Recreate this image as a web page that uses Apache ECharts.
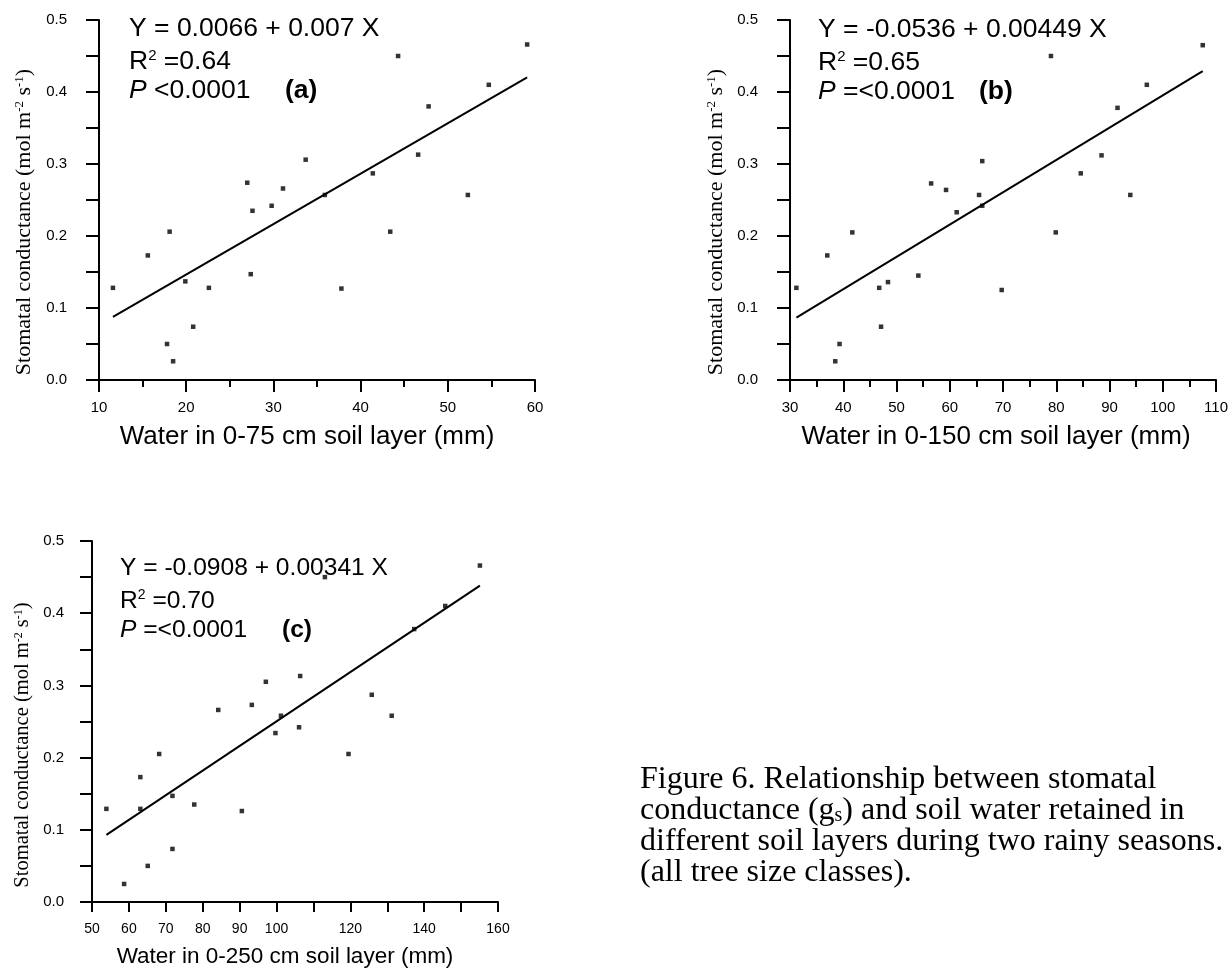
<!DOCTYPE html>
<html><head><meta charset="utf-8">
<script src="https://cdn.jsdelivr.net/npm/echarts@6/dist/echarts.min.js"></script>
<style>html,body{margin:0;padding:0;background:#fff}#c{width:1231px;height:971px}</style>
</head><body><div id="c"></div>
<script>
// ---- data ----
const xA = [11.6,15.6,17.8,18.1,18.5,19.9,20.8,22.6,27.0,27.4,27.6,29.8,31.1,33.7,35.9,37.8,41.4,43.4,44.3,46.6,47.8,52.3,54.7,59.1];
const yA = [0.128,0.173,0.050,0.206,0.026,0.137,0.074,0.128,0.274,0.147,0.235,0.242,0.266,0.306,0.257,0.127,0.287,0.206,0.450,0.313,0.380,0.257,0.410,0.466];
const xB = [31.2,37.0,38.5,39.3,41.7,46.75,47.1,48.4,54.1,56.5,59.3,61.3,65.5,66.1,66.1,69.75,79.0,79.9,84.6,88.5,91.5,93.9,97.0,107.5];
const yB = [0.128,0.173,0.026,0.050,0.205,0.128,0.074,0.136,0.145,0.273,0.264,0.233,0.257,0.304,0.242,0.125,0.450,0.205,0.287,0.312,0.378,0.257,0.410,0.465];
const xC = [53.9,58.7,63.1,63.1,65.1,68.2,71.8,71.8,77.7,84.2,90.6,93.3,97.1,99.7,101.2,106.1,106.4,113.1,119.5,125.8,131.2,137.3,145.7,155.1];
const yC = [0.129,0.025,0.173,0.129,0.050,0.205,0.147,0.0735,0.135,0.266,0.126,0.273,0.305,0.234,0.258,0.242,0.313,0.450,0.205,0.287,0.258,0.378,0.410,0.466];
// regression [intercept, slope]
const fitA = [0.0066, 0.007];
const fitB = [-0.0536, 0.00449];
const fitC = [-0.0908, 0.00341];
const xRangeA = [10, 60], xRangeB = [30, 110], xRangeC = [50, 160];
const yRange = [0, 0.5];
const hiddenXLabelsC = [110, 130, 150];
const xTitles = ['Water in 0-75 cm soil layer (mm)', 'Water in 0-150 cm soil layer (mm)', 'Water in 0-250 cm soil layer (mm)'];
const eqText = ['Y = 0.0066 + 0.007 X', 'Y = -0.0536 + 0.00449 X', 'Y = -0.0908 + 0.00341 X'];
const r2Text = ['0.64', '0.65', '0.70'];
const pText = [' <0.0001', ' =<0.0001', ' =<0.0001'];
const panelTags = ['(a)', '(b)', '(c)'];

// ---- build ----
const SANS = 'Liberation Sans, Arial, sans-serif';
const SERIF = 'Liberation Serif, Times New Roman, serif';
const grids = [
  {left: 99, top: 20, width: 436, height: 360},
  {left: 790, top: 20, width: 435, height: 360},
  {left: 92, top: 541, width: 406, height: 361}
];
function pts(xs, ys){ return xs.map((x,i)=>[x, ys[i]]); }
function fitLine(xs, f){ const lo=Math.min(...xs), hi=Math.max(...xs); return [[lo, f[0]+f[1]*lo],[hi, f[0]+f[1]*hi]]; }
const axisLine = {lineStyle:{color:'#000', width:2}};
function xAxis(i, r, minor, hidden, fs){
  return {type:'value', gridIndex:i, min:r[0], max:r[1], interval:10,
    axisLine, axisTick:{length:minor?12:10, lineStyle:{color:'#000', width:2}},
    minorTick:{show:minor, splitNumber:2, length:7, lineStyle:{color:'#000', width:2}},
    splitLine:{show:false}, minorSplitLine:{show:false},
    axisLabel:{margin:20, color:'#000', fontFamily:SANS, fontSize:fs,
      formatter: v => (hidden && hidden.includes(v)) ? '' : String(v)}};
}
function yAxis(i, tl, mg){
  return {type:'value', gridIndex:i, min:yRange[0], max:yRange[1], interval:0.1,
    axisLine, axisTick:{length:tl, lineStyle:{color:'#000', width:2}},
    minorTick:{show:true, splitNumber:2, length:tl, lineStyle:{color:'#000', width:2}},
    splitLine:{show:false}, minorSplitLine:{show:false},
    axisLabel:{margin:mg, color:'#000', fontFamily:SANS, fontSize:15, formatter: v => v.toFixed(1)}};
}
const series = [];
[[xA,yA,fitA],[xB,yB,fitB],[xC,yC,fitC]].forEach((d,i)=>{
  series.push({type:'scatter', xAxisIndex:i, yAxisIndex:i, data:pts(d[0],d[1]), symbol:'rect', symbolSize:4.5,
    itemStyle:{color:'#000'}, silent:true});
  series.push({type:'line', xAxisIndex:i, yAxisIndex:i, data:fitLine(d[0],d[2]), symbol:'none',
    lineStyle:{color:'#000', width:2}, silent:true});
});
function yTitle(x, y, fs){
  const rich = {
    base:{fontFamily:SERIF, fontSize:fs, color:'#000'},
    sup:{fontFamily:SERIF, fontSize:Math.round(fs*0.6), color:'#000', verticalAlign:'top'}
  };
  return {type:'text', x:x, y:y, rotation:Math.PI/2,
    style:{text:'{base|Stomatal conductance (mol m}{sup|-2}{base| s}{sup|-1}{base|)}', rich:rich,
      textAlign:'center', textVerticalAlign:'middle'}};
}
function txt(x, y, text, fs){
  return {type:'text', x:x, y:y, style:{text:text, fontFamily:SANS, fontSize:fs, fill:'#000', textAlign:'center', textVerticalAlign:'middle'}};
}
function annot(x, y, k, tagX, fs){
  const r = {
    n:{fontFamily:SANS, fontSize:fs, color:'#000'},
    s:{fontFamily:SANS, fontSize:Math.round(fs*0.56), color:'#000', verticalAlign:'top'},
    i:{fontFamily:SANS, fontSize:fs, color:'#000', fontStyle:'italic'},
    b:{fontFamily:SANS, fontSize:fs, color:'#000', fontWeight:'bold'}
  };
  return [
    {type:'text', x:x, y:y, style:{text:'{n|'+eqText[k]+'}', rich:r, textVerticalAlign:'middle'}},
    {type:'text', x:x, y:y+33, style:{text:'{n|R}{s|2}{n| ='+r2Text[k]+'}', rich:r, textVerticalAlign:'middle'}},
    {type:'text', x:x, y:y+62, style:{text:'{i|P}{n|'+pText[k]+'}', rich:r, textVerticalAlign:'middle'}},
    {type:'text', x:tagX, y:y+62, style:{text:'{b|'+panelTags[k]+'}', rich:r, textVerticalAlign:'middle'}}
  ];
}
const capRich = {
  t:{fontFamily:SERIF, fontSize:32, color:'#000', lineHeight:31},
  sub:{fontFamily:SERIF, fontSize:20, color:'#000', verticalAlign:'bottom', lineHeight:31}
};
const graphic = [
  yTitle(24, 222, 22), yTitle(716, 222, 22), yTitle(23, 745, 20.5),
  txt(307, 437, xTitles[0], 26),
  txt(996, 437, xTitles[1], 26),
  txt(285, 957, xTitles[2], 22.5),
  ...annot(129, 29, 0, 285, 26.5), ...annot(818, 30, 1, 979, 26.5), ...annot(120, 568, 2, 282, 24.6),
  {type:'text', x:640, y:764, style:{text:
    '{t|Figure 6. Relationship between stomatal}\n{t|conductance (g}{sub|s}{t|) and soil water retained in}\n{t|different soil layers during two rainy seasons.}\n{t|(all tree size classes).}',
    rich:capRich}}
];
const chart = echarts.init(document.getElementById('c'), null, {renderer:'canvas'});
chart.setOption({
  animation:false, backgroundColor:'#fff',
  grid: grids,
  xAxis: [xAxis(0, xRangeA, true, null, 15), xAxis(1, xRangeB, true, null, 15), xAxis(2, xRangeC, false, hiddenXLabelsC, 14)],
  yAxis: [yAxis(0, 13, 32), yAxis(1, 13, 32), yAxis(2, 12, 28)],
  series: series,
  graphic: graphic
});
</script></body></html>
